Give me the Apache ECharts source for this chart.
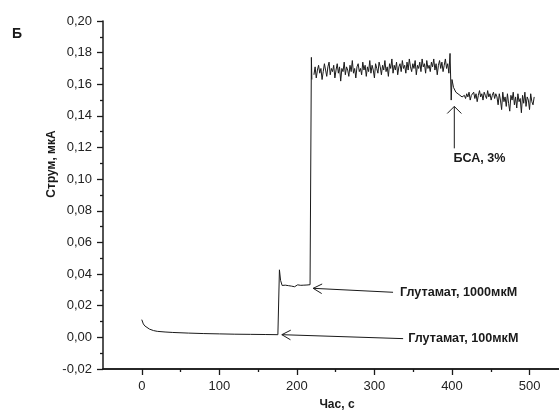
<!DOCTYPE html>
<html><head><meta charset="utf-8">
<script src="https://cdn.jsdelivr.net/npm/echarts@6/dist/echarts.min.js"></script>
<style>html,body{margin:0;padding:0;background:#fff}#c{width:559px;height:413px}</style>
</head><body><div id="c"></div>
<script>
const FONT = 'Liberation Sans, Arial, Helvetica, sans-serif';
const INK = '#1a1a1a';

// ---- tick values ----
const xTickValues = [0, 100, 200, 300, 400, 500];
const xMinorTickValues = [50, 150, 250, 350, 450];

// ---- baseline decay, 100 µM step, 1000 µM plateau, jump ----
const earlyTime = [0, 2, 4, 6.5, 10, 15, 20, 30, 40, 60, 80, 100, 120, 140, 160, 175.5,
  177.5, 179, 181, 183, 185, 187, 189, 191, 193, 195, 197, 199, 201, 203, 205, 207, 209, 211, 213, 215, 217,
  218.7, 219.3, 220.5];
const earlyCurrent = [0.0112, 0.0085, 0.0072, 0.0063, 0.0052, 0.0043, 0.0038, 0.0034, 0.0031, 0.0027, 0.0024, 0.0022, 0.0020, 0.0019, 0.0018, 0.0017,
  0.0427, 0.0360, 0.0328, 0.0325, 0.0330, 0.0322, 0.0327, 0.0331, 0.0324, 0.0328, 0.0320, 0.0326, 0.0332, 0.0325, 0.0329, 0.0323, 0.0330, 0.0326, 0.0331, 0.0327,
  0.0333, 0.177, 0.163];

// ---- 1000 µM high plateau (sampled every 1.5 s from 222 s) ----
const plateauStart = 222, plateauStep = 1.5;
const plateauCurrent = [
  0.166,0.171,0.164,0.169,0.172,0.167,0.170,0.163,0.168,0.173,
  0.169,0.165,0.171,0.174,0.166,0.170,0.168,0.172,0.164,0.169,
  0.173,0.167,0.171,0.162,0.170,0.168,0.174,0.166,0.171,0.169,
  0.165,0.172,0.168,0.175,0.167,0.170,0.164,0.171,0.173,0.168,
  0.170,0.166,0.174,0.169,0.172,0.165,0.171,0.168,0.175,0.167,
  0.172,0.169,0.164,0.173,0.170,0.167,0.174,0.171,0.166,0.172,
  0.169,0.175,0.168,0.171,0.165,0.173,0.170,0.176,0.167,0.172,
  0.169,0.174,0.166,0.171,0.173,0.168,0.175,0.170,0.172,0.167,
  0.174,0.169,0.176,0.171,0.168,0.173,0.170,0.175,0.166,0.172,
  0.170,0.174,0.168,0.176,0.171,0.173,0.167,0.175,0.170,0.172,
  0.168,0.174,0.171,0.176,0.169,0.173,0.166,0.172,0.175,0.170,
  0.174,0.168,0.172,0.176,0.170,0.173,0.167];

// ---- BSA addition transient ----
const bsaTime = [397.5, 399, 400, 402, 405, 409, 413];
const bsaCurrent = [0.1795, 0.150, 0.163, 0.158, 0.155, 0.1535, 0.152];

// ---- after BSA (sampled every 1.5 s from 416 s) ----
const lateStart = 416, lateStep = 1.5;
const lateCurrent = [
  0.153,0.151,0.154,0.152,0.155,0.150,0.153,0.152,0.155,0.151,
  0.154,0.149,0.153,0.156,0.152,0.154,0.150,0.155,0.153,0.151,
  0.156,0.152,0.154,0.150,0.153,0.155,0.151,0.154,0.152,
  0.147,0.154,0.150,0.144,0.155,0.149,0.152,0.146,0.154,0.148,
  0.143,0.153,0.150,0.155,0.147,0.152,0.145,0.154,0.149,0.151,
  0.142,0.153,0.148,0.155,0.146,0.152,0.150,0.144,0.154,0.149,
  0.147,0.152];

// ---- annotations (data coordinates) ----
const noteTexts = ['Глутамат, 1000мкМ', 'Глутамат, 100мкМ', 'БСА, 3%'];
const noteTips = [[221, 0.031], [180.6, 0.0017], [403, 0.146]];
const noteTails = [[324, 0.0285], [337, -0.0008], [403, 0.1195]];
const noteTextAt = [[333, 0.0283], [343.6, -0.0008], [402, 0.113]];

// ---- build series data ----
const seriesData = [];
earlyTime.forEach((t, i) => seriesData.push([t, earlyCurrent[i]]));
plateauCurrent.forEach((v, i) => seriesData.push([plateauStart + i * plateauStep, v]));
bsaTime.forEach((t, i) => seriesData.push([t, bsaCurrent[i]]));
lateCurrent.forEach((v, i) => seriesData.push([lateStart + i * lateStep, v]));

const chart = echarts.init(document.getElementById('c'), null, {renderer: 'canvas'});
const fmtY = v => v.toFixed(2).replace('-0.00', '0.00').replace('.', ',');
const gridBox = {left: 103, right: 0, top: 21, bottom: 44, containLabel: false, outerBoundsMode: 'none'};

chart.setOption({
  animation: false,
  backgroundColor: '#fff',
  textStyle: {fontFamily: FONT},
  title: {text: 'Б', left: 12, top: 27, padding: 0, textStyle: {fontFamily: FONT, fontSize: 14, fontWeight: 'bold', color: INK}},
  grid: [Object.assign({}, gridBox), Object.assign({}, gridBox)],
  xAxis: [{
    type: 'value', min: -50, max: 538, gridIndex: 0,
    name: 'Час, с', nameLocation: 'middle', nameGap: 30,
    nameTextStyle: {fontFamily: FONT, fontSize: 12, fontWeight: 'bold', color: INK, padding: [0, 0, 0, 12]},
    axisLine: {show: true, onZero: false, lineStyle: {color: INK, width: 1.5}},
    axisTick: {show: true, length: 6, customValues: xTickValues, lineStyle: {color: INK, width: 1.3}},
    axisLabel: {customValues: xTickValues, margin: 11, fontSize: 13, color: '#222', fontFamily: FONT},
    splitLine: {show: false}
  }, {
    type: 'value', min: -50, max: 538, gridIndex: 1, position: 'bottom',
    axisLine: {show: true, onZero: false, lineStyle: {color: INK, width: 1.5}},
    axisTick: {show: true, length: 3, customValues: xMinorTickValues, lineStyle: {color: INK, width: 1.3}},
    axisLabel: {show: true, customValues: xMinorTickValues, color: 'rgba(0,0,0,0)', fontSize: 1},
    splitLine: {show: false}
  }],
  yAxis: [{
    type: 'value', min: -0.02, max: 0.20, interval: 0.02, gridIndex: 0,
    axisLine: {show: true, onZero: false, lineStyle: {color: INK, width: 1.5}},
    axisTick: {show: true, length: 6, lineStyle: {color: INK, width: 1.3}},
    minorTick: {show: true, splitNumber: 2, length: 3, lineStyle: {color: INK, width: 1.3}},
    axisLabel: {formatter: fmtY, margin: 11, fontSize: 13, color: '#222', fontFamily: FONT},
    splitLine: {show: false}
  }, {
    type: 'value', min: -0.02, max: 0.20, gridIndex: 1, show: false
  }],
  series: [{
    type: 'line', data: seriesData, showSymbol: false, symbol: 'none',
    lineStyle: {color: INK, width: 1}, xAxisIndex: 0, yAxisIndex: 0
  }]
});

// ---- annotations drawn at data positions ----
const px = p => chart.convertToPixel({xAxisIndex: 0, yAxisIndex: 0}, p);
const elements = [];
elements.push({
  type: 'text', x: 52, y: 164, rotation: Math.PI / 2,
  style: {text: 'Струм, мкА', fontFamily: FONT, fontSize: 12, fontWeight: 'bold', fill: INK, align: 'center', verticalAlign: 'middle'}
});
noteTexts.forEach((txt, i) => {
  const tip = px(noteTips[i]), tail = px(noteTails[i]), at = px(noteTextAt[i]);
  const ang = Math.atan2(tail[1] - tip[1], tail[0] - tip[0]);
  const half = i === 2 ? Math.PI / 4 : 0.5, L = 10;
  const a1 = [tip[0] + L * Math.cos(ang + half), tip[1] + L * Math.sin(ang + half)];
  const a2 = [tip[0] + L * Math.cos(ang - half), tip[1] + L * Math.sin(ang - half)];
  elements.push({type: 'polyline', shape: {points: [tip, tail]}, style: {stroke: INK, lineWidth: 1, fill: null}});
  elements.push({type: 'polyline', shape: {points: [a1, tip, a2]}, style: {stroke: INK, lineWidth: 1, fill: null}});
  elements.push({type: 'text', x: at[0], y: at[1],
    style: {text: txt, fontFamily: FONT, fontSize: 12.6, fontWeight: 'bold', fill: INK, align: 'left', verticalAlign: 'middle'}});
});
chart.setOption({graphic: {elements}});
</script></body></html>
